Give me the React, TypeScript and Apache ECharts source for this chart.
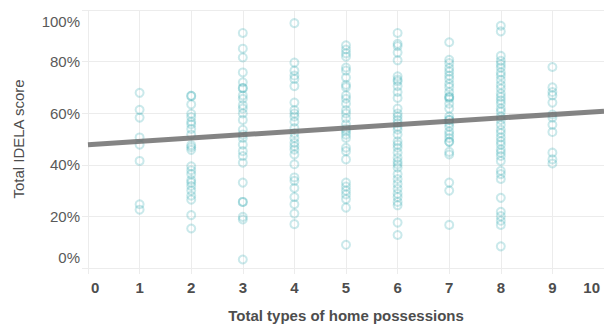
import React, { useEffect, useRef } from "react";
import * as echarts from "echarts";

const possessions1 = [67.9, 61.3, 58.3, 50.6, 47.8, 41.5, 24.7, 22.6];
const possessions2 = [66.7, 66.7, 63.4, 59.8, 58.5, 56.7, 55.7, 53.9, 51.7, 47.6, 46.8, 45.8, 39.4, 37.9, 36.4, 34.1, 33.1, 31.8, 30.0, 28.0, 26.5, 20.5, 15.3];
const possessions3 = [91.1, 85.0, 81.6, 75.8, 72.0, 69.7, 69.7, 66.9, 65.6, 63.1, 61.8, 59.9, 57.4, 53.6, 51.7, 50.4, 47.8, 45.3, 43.4, 40.8, 33.1, 25.6, 25.6, 19.8, 18.8, 3.3];
const possessions4 = [94.9, 79.6, 76.5, 74.6, 73.3, 70.5, 64.1, 61.2, 59.9, 58.7, 56.7, 54.2, 52.3, 50.4, 48.5, 47.2, 45.9, 44.0, 40.2, 35.1, 33.8, 31.0, 27.5, 24.7, 21.1, 17.0];
const possessions5 = [86.3, 84.7, 83.2, 81.9, 77.7, 76.5, 73.8, 71.0, 70.1, 66.9, 65.6, 63.7, 61.2, 59.9, 58.0, 55.7, 53.9, 52.9, 51.7, 50.4, 46.6, 45.3, 42.1, 33.1, 31.6, 30.0, 28.5, 26.7, 23.4, 9.0];
const possessions6 = [91.1, 86.9, 86.0, 83.5, 80.5, 74.3, 73.0, 72.3, 70.5, 68.2, 65.9, 61.8, 59.9, 58.7, 57.4, 56.1, 54.8, 53.6, 51.7, 49.1, 47.8, 46.6, 44.7, 42.7, 41.2, 40.2, 38.9, 36.4, 34.5, 32.6, 30.7, 28.8, 27.5, 25.6, 24.3, 17.6, 12.8];
const possessions7 = [87.5, 80.7, 79.4, 77.5, 76.1, 74.6, 73.3, 71.4, 70.1, 68.2, 66.3, 66.3, 65.6, 63.7, 61.8, 58.7, 57.4, 57.4, 56.1, 54.8, 52.9, 51.7, 50.4, 48.9, 48.9, 45.0, 44.0, 33.1, 30.0, 16.7];
const possessions8 = [93.9, 91.7, 82.2, 80.3, 79.0, 77.7, 75.8, 74.6, 72.9, 71.0, 69.5, 67.6, 66.3, 65.0, 63.7, 61.8, 60.6, 58.7, 57.4, 55.5, 53.6, 52.3, 50.6, 49.1, 47.8, 45.9, 44.7, 43.4, 41.5, 37.7, 36.4, 34.5, 27.2, 21.8, 20.1, 18.3, 16.7, 8.4];
const possessions9 = [77.9, 70.0, 68.2, 66.9, 64.1, 59.5, 58.3, 55.5, 52.7, 44.7, 42.1, 40.5];

const scoreColumns = [possessions1, possessions2, possessions3, possessions4, possessions5, possessions6, possessions7, possessions8, possessions9];
const possessionCounts = [1, 2, 3, 4, 5, 6, 7, 8, 9];

const trendX = [0, 10];
const trendY = [47.8, 60.8];

export default function App() {
  const ref = useRef<HTMLDivElement>(null);
  useEffect(() => {
    if (!ref.current) return;
    const chart = echarts.init(ref.current, null, { renderer: "svg" });
    const points: number[][] = [];
    scoreColumns.forEach((col, i) => {
      col.forEach((v) => points.push([possessionCounts[i], v]));
    });
    const gridColor = "#ececec";
    chart.setOption({
      animation: false,
      grid: { left: 88, top: 10, width: 518, height: 262 },
      xAxis: {
        type: "value",
        min: 0,
        max: 10,
        interval: 1,
        name: "Total types of home possessions",
        nameLocation: "middle",
        nameGap: 40,
        nameTextStyle: { fontFamily: "Liberation Sans, Arial", fontSize: 15, fontWeight: "bold", color: "#4d4d4d" },
        axisLine: { show: false },
        axisTick: { show: true, length: 6, lineStyle: { color: gridColor } },
        splitLine: { show: true, lineStyle: { color: gridColor, width: 1 } },
        axisLabel: {
          margin: 12,
          fontFamily: "Liberation Sans, Arial",
          fontSize: 15,
          fontWeight: "bold",
          color: "#4d4d4d",
          alignMinLabel: "left",
          alignMaxLabel: "right",
          formatter: (v: number) => (v === 0 ? "{min|0}" : v === 10 ? "{max|10}" : String(v)),
          rich: {
            min: { padding: [0, 0, 0, 3], fontFamily: "Liberation Sans, Arial", fontSize: 15, fontWeight: "bold", color: "#4d4d4d" },
            max: { padding: [0, 4, 0, 0], fontFamily: "Liberation Sans, Arial", fontSize: 15, fontWeight: "bold", color: "#4d4d4d" },
          },
        },
      },
      yAxis: {
        type: "value",
        min: 0,
        max: 100,
        interval: 20,
        name: "Total IDELA score",
        nameLocation: "middle",
        nameGap: 62,
        nameTextStyle: { fontFamily: "Liberation Sans, Arial", fontSize: 15, color: "#4d4d4d" },
        axisLine: { show: false },
        axisTick: { show: true, length: 6, lineStyle: { color: gridColor } },
        splitLine: { show: true, lineStyle: { color: gridColor, width: 1 } },
        axisLabel: {
          margin: 8,
          fontFamily: "Liberation Sans, Arial",
          fontSize: 15,
          color: "#595959",
          lineHeight: 22,
          verticalAlignMinLabel: "bottom",
          verticalAlignMaxLabel: "top",
          formatter: "{value}%",
        },
      },
      series: [
        {
          type: "scatter",
          data: points,
          symbol: "circle",
          symbolSize: 8,
          itemStyle: { color: "rgba(0,0,0,0)", borderColor: "rgba(32,163,172,0.3)", borderWidth: 2 },
          z: 2,
        },
        {
          type: "line",
          data: trendX.map((x, i) => [x, trendY[i]]),
          showSymbol: false,
          lineStyle: { color: "rgba(110,110,110,0.85)", width: 5 },
          z: 3,
        },
      ],
    });
    return () => chart.dispose();
  }, []);
  return <div ref={ref} style={{ position: "absolute", left: 0, top: 0, width: 604, height: 328 }} />;
}
